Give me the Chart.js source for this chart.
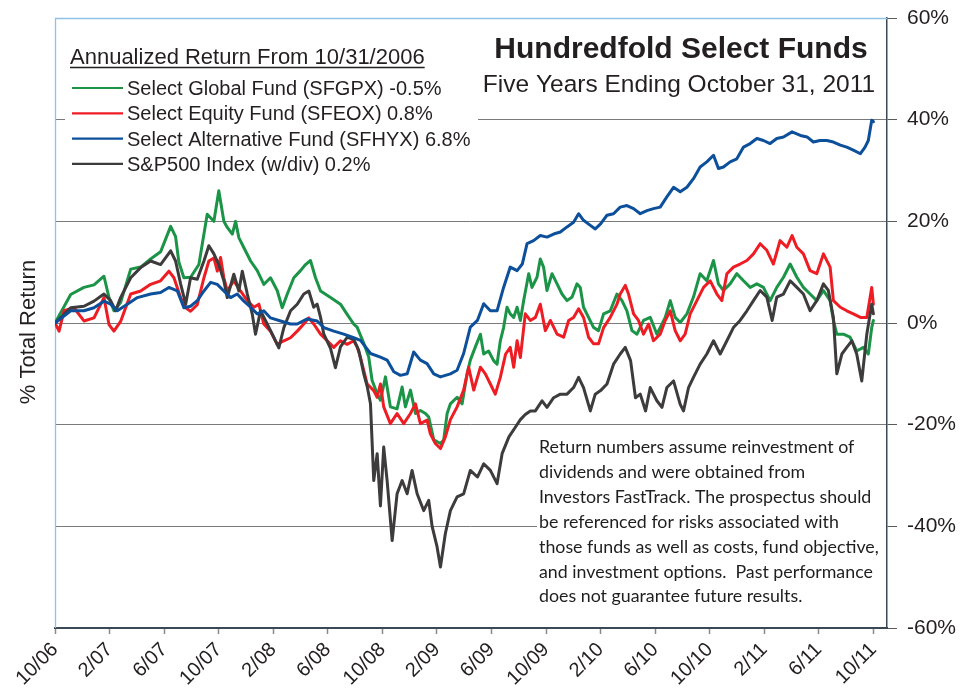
<!DOCTYPE html>
<html><head><meta charset="utf-8">
<script src="https://cdn.jsdelivr.net/npm/chart.js@4.4.0/dist/chart.umd.min.js"></script>
<style>html,body{margin:0;padding:0;background:#fff}#wrap{width:972px;height:696px}</style>
</head><body><div id="wrap"><canvas id="c" width="972" height="696"></canvas></div>
<script>
// Months since 10/31/2006 for the axis ticks
const tickMonths = [0,4,8,12,16,20,24,28,32,36,40,44,48,52,56,60];
const tickLabels = ['10/06','2/07','6/07','10/07','2/08','6/08','10/08','2/09','6/09','10/09','2/10','6/10','10/10','2/11','6/11','10/11'];
const yTicks = [-60,-40,-20,0,20,40,60];

const seriesNames = [
  'Select Global Fund (SFGPX) -0.5%',
  'Select Equity Fund (SFEOX) 0.8%',
  'Select Alternative Fund (SFHYX) 6.8%',
  'S&P500 Index (w/div) 0.2%'
];
const seriesColors = ['#1b9447','#ee1d24','#0c4f9b','#3d3b3c'];

// Select Global Fund
const globalMonths = [0,1.15,2.12,2.86,3.59,3.96,4.32,4.81,5.55,6.28,7.01,7.74,8.48,8.84,9.08,9.45,9.94,10.55,11.16,11.65,12.01,12.38,12.63,13.0,13.24,13.48,13.85,14.34,14.83,15.31,15.80,16.29,16.66,17.03,17.51,18.0,18.37,18.73,19.10,19.47,20.20,20.93,21.42,21.90,22.15,22.64,23.0,23.25,23.62,23.86,24.23,24.59,25.08,25.45,25.69,26.06,26.43,26.79,27.16,27.40,27.77,28.26,28.50,28.75,28.99,29.48,29.85,30.21,30.45,30.82,31.19,31.43,31.79,32.16,32.41,32.65,32.89,33.14,33.38,33.63,33.88,34.12,34.36,34.73,34.97,35.34,35.58,35.82,36.07,36.44,36.81,37.17,37.54,37.91,38.27,38.51,38.75,39.12,39.49,39.85,40.22,40.71,41.20,41.57,41.93,42.30,42.67,43.15,43.64,44.13,44.37,44.74,45.11,45.47,45.84,46.33,46.81,47.30,47.79,48.28,48.64,49.01,49.50,49.99,50.48,50.97,51.46,51.94,52.43,52.92,53.41,53.90,54.39,54.87,55.36,55.85,56.34,56.83,57.07,57.32,57.80,58.29,58.78,59.27,59.63,59.88,60.0];
const globalReturns = [0,5.6,7,7.5,9.2,5,2.4,4,10.6,11,12.6,14,19,17,12,8.9,9,11.5,21.4,20,26,20,18.8,17.5,20,16.8,14.8,12.2,10.3,7.6,8.9,6.4,3,5.7,8.9,10.3,11.5,12.3,8.9,6.3,5,3.7,1.7,-0.2,-0.8,-4,-6.7,-11.3,-13.9,-15.2,-10.6,-16.5,-16.9,-12.6,-16.5,-13.2,-17.8,-17.2,-17.8,-18.5,-23,-23.7,-23,-17.8,-15.9,-14.6,-15.9,-10,-7.3,-4.7,-2.2,-6.1,-5.5,-7.4,-8.1,-3.5,-0.9,3.1,1.8,1.1,3.1,0.5,4.4,9.7,7,9,12.6,11,6.4,9.7,7.7,5.7,4.4,5.1,7.7,7,3.1,1.1,-0.9,-1.5,1.8,2.4,5.7,4.4,2.4,-1.5,-2.2,0.5,1.1,-2.2,-0.9,1.1,4.4,1.1,0.1,1.8,5.1,9.7,8.3,12.3,7.7,6.4,7.7,9.7,8.3,7,7.7,7,4.4,7,9,11.6,9,7,5.7,4.4,6.4,4.4,0.5,-2.2,-2.2,-2.8,-5.5,-4.8,-6.1,-0.9,0.5];

// Select Equity Fund
const equityMonths = [0,0.3,0.66,1.39,2.12,2.86,3.59,3.96,4.32,4.81,5.55,6.28,7.01,7.74,8.35,8.72,9.21,9.58,9.94,10.43,10.92,11.28,11.65,11.90,12.14,12.38,12.63,13.11,13.60,14.10,14.58,14.95,15.31,15.80,16.29,16.78,17.27,17.76,18.24,18.61,18.97,19.47,19.96,20.44,20.93,21.42,21.90,22.15,22.40,22.89,23.37,23.62,23.86,24.10,24.59,25.08,25.57,26.06,26.43,26.79,27.28,27.52,27.89,28.26,28.62,28.99,29.48,29.96,30.33,30.70,31.19,31.55,31.92,32.28,32.65,33.04,33.38,33.63,33.88,34.12,34.48,34.85,35.22,35.58,35.95,36.32,36.81,37.29,37.66,38.02,38.39,38.75,39.12,39.49,39.85,40.22,40.71,41.20,41.44,41.81,42.05,42.42,42.78,43.15,43.52,43.88,44.37,44.74,45.11,45.47,45.84,46.20,46.57,47.06,47.55,48.04,48.53,48.89,49.26,49.74,50.23,50.73,51.21,51.70,52.19,52.67,53.16,53.66,54.04,54.39,54.87,55.36,55.85,56.34,56.83,57.07,57.58,58.05,58.53,59.05,59.52,59.88,60.0];
const equityReturns = [0,-1.6,2.4,3,0.4,1,5,-0.3,-1.6,0.3,5.7,6.3,7.6,8.3,10.2,8.9,5,3,2.3,3.6,8.9,12.2,12.8,10.2,12.9,8.9,6.3,8.3,6.3,4.4,3.1,3.7,-0.2,-1.6,-4.2,-3.5,-2.9,-1.6,-0.2,1,-0.2,-2.2,-3.5,-4.8,-3.5,-4.2,-3.5,-4.7,-6.8,-12,-13.3,-14.6,-12,-16.5,-19.8,-17.8,-19.8,-17.8,-15.9,-19.8,-19.1,-21.8,-23.7,-24.7,-22.4,-19,-16.5,-13.2,-8.7,-13.2,-8.7,-10,-12,-14,-10.7,-6.1,-4.8,-8.7,-3.5,-6.8,1.8,0.5,1.1,3.7,-1.5,0.5,-2.2,-2.8,0.5,1.1,2.8,1.1,-2.8,-4.1,-4.1,-0.9,1.1,3.7,5.7,7.4,5.7,1.8,0.5,-2.2,-0.2,-3.5,-2.2,0.5,2.4,-1.5,-3.5,-2.2,1.8,4.4,7,8.3,5.7,4.4,9.7,11,11.6,12.3,13.6,15.6,14.3,11.6,16.2,14.9,17.2,14.9,13.6,10.3,9.7,13.6,11,4.4,3.1,2.4,1.8,1.1,1.1,7,3.7];

// Select Alternative Fund
const altMonths = [0,1.15,2.12,2.86,3.59,4.08,4.57,5.30,6.04,7.01,7.74,8.35,8.97,9.45,9.94,10.43,10.92,11.41,11.90,12.38,12.87,13.36,13.85,14.34,14.83,15.31,15.80,16.54,17.27,17.76,18.49,19.22,19.71,20.44,21.17,21.90,22.40,23.13,23.86,24.35,24.84,25.33,25.82,26.30,26.79,27.28,27.77,28.26,28.99,29.48,29.96,30.45,30.97,31.43,31.92,32.41,32.89,33.38,33.88,34.26,34.61,35.09,35.58,36.07,36.56,37.05,37.54,38.02,38.39,38.75,39.25,39.61,40.0,40.47,40.95,41.44,41.93,42.42,42.91,43.40,43.88,44.37,44.86,45.35,45.84,46.33,46.81,47.30,47.79,48.28,48.64,49.01,49.50,49.99,50.48,50.97,51.46,51.94,52.43,52.92,53.41,54.04,54.65,55.14,55.60,56.09,56.59,57.07,57.58,58.05,58.53,59.05,59.39,59.63,59.88,60.0];
const altReturns = [0,2.4,2.4,3,4.3,3.7,2.4,3.7,5,5.7,6,7,6.3,3,3.3,4.4,6.3,8,7.6,6.3,5,5.7,4.3,3.1,1.8,2.4,1,0.4,-0.2,-0.2,0.8,0.4,-0.9,-1.6,-2.2,-2.9,-3.4,-6,-6.7,-7.3,-9.6,-10.3,-10,-5.7,-7.3,-8,-10,-10.6,-10,-9.3,-6,-0.8,0.5,3.8,2.4,2.4,7,11,10.3,11.6,15.6,16.2,17.2,16.9,17.5,17.9,18.9,19.8,21.5,20.2,19.2,18.5,19.5,21.2,21.5,22.8,23.1,22.5,21.5,22.1,22.5,22.8,24.8,26.7,25.8,26.7,28.4,30.7,31.7,33,30.4,30.7,31.7,32.3,34.6,35.3,36.3,35.9,35.3,36.3,36.6,37.6,36.9,36.6,35.6,35.9,35.9,35.6,35,34.6,34,33.3,34.6,35.9,39.9,39.6];

// S&P 500 Index (with dividends)
const spMonths = [0,1.15,2.12,2.86,3.59,4.08,4.45,4.81,5.55,6.28,7.01,7.74,8.48,8.84,9.21,9.58,9.94,10.43,10.92,11.28,11.65,12.01,12.38,12.63,13.11,13.48,13.73,14.10,14.46,14.70,15.07,15.56,16.04,16.41,16.78,17.27,17.76,18.24,18.61,18.97,19.22,19.47,19.71,20.20,20.56,20.93,21.42,21.90,22.27,22.64,22.89,23.13,23.37,23.62,23.86,24.10,24.35,24.72,25.08,25.45,25.82,26.18,26.55,27.03,27.40,27.65,28.01,28.26,28.62,28.99,29.48,29.96,30.45,30.97,31.43,31.92,32.41,32.78,33.28,33.75,34.12,34.48,34.85,35.22,35.71,36.07,36.56,37.05,37.54,38.02,38.39,38.75,39.25,39.61,40.0,40.47,40.95,41.44,41.81,42.20,42.56,42.91,43.30,43.64,44.13,44.50,44.86,45.35,45.84,46.08,46.45,46.81,47.30,47.79,48.28,48.77,49.26,49.74,50.23,50.73,51.21,51.70,52.19,52.58,52.92,53.41,53.90,54.39,54.87,55.36,55.85,56.34,56.70,57.07,57.32,57.69,58.05,58.42,58.78,59.15,59.52,59.88,60.0];
const spReturns = [0,3,3.3,4.3,5.7,4.4,2.4,5,8.9,10.9,12.2,11.5,14.2,12.2,7.7,3.7,8.9,8.6,12.2,15.2,13.6,11.5,8.3,5,9.6,6.3,10.2,5.7,1.8,-2.2,2.4,-0.2,-2.8,-4.9,-0.9,2.4,3.7,5.7,6.3,3.1,3.7,1.1,-2.2,-5,-8.8,-4.7,-2.8,-3.2,-5.4,-10,-12.5,-15.9,-31,-25.7,-36,-24.4,-31,-42.8,-33.6,-31,-33.6,-29,-33.6,-36.9,-34.9,-40,-44,-48,-41.4,-36.9,-34.2,-33.6,-29,-30.3,-27.7,-29,-31.6,-25.7,-22.4,-20.5,-19,-18,-17.3,-17.3,-15.3,-16.6,-14.7,-14,-14,-12.7,-10.7,-12.7,-17.3,-14,-13.3,-12,-8.1,-6.1,-4.8,-7.4,-14.7,-14,-17.3,-12.7,-15.3,-16.6,-12.7,-11.4,-16,-17.3,-12.7,-10.7,-8.1,-6.1,-3.5,-6.1,-3.5,-0.9,0.5,2.4,4.4,6.4,5.1,0.5,5.1,5.7,8.3,7,5.7,2.4,4.4,7.7,6.4,1.1,-10,-6.1,-4.8,-3.5,-6.1,-11.4,-2.2,3.7,1.8];

const FONT = "'Liberation Sans', Arial, Helvetica, sans-serif";
const TEXT = '#231f20';

function pts(ms, vs){ return ms.map((m,i)=>({x:m,y:vs[i]})); }

const noteLines = [
  'Return numbers assume reinvestment of',
  'dividends and were obtained from',
  'Investors FastTrack. The prospectus should',
  'be referenced for risks associated with',
  'those funds as well as costs, fund objective,',
  'and investment options.  Past performance',
  'does not guarantee future results.'
];

const decor = {
  id:'decor',
  beforeDatasetsDraw(chart){
    const {ctx, chartArea:a} = chart;
    ctx.save();
    ctx.strokeStyle = '#8fc3e6'; ctx.lineWidth = 1.3;
    ctx.beginPath();
    ctx.moveTo(a.left+0.5, a.bottom); ctx.lineTo(a.left+0.5, a.top+0.5); ctx.lineTo(a.right, a.top+0.5);
    ctx.stroke();
    ctx.fillStyle = '#ffffff';
    ctx.fillRect(a.left+10, a.top+12, 478-(a.left+10), 170);
    ctx.fillRect(537, 431, a.right-1-537, 182);
    ctx.restore();
  },
  afterDraw(chart){
    const {ctx} = chart;
    ctx.save();
    ctx.fillStyle = TEXT;
    ctx.textBaseline = 'alphabetic';
    ctx.font = '22px ' + FONT; ctx.textAlign = 'left';
    const head = 'Annualized Return From 10/31/2006';
    ctx.fillText(head, 70, 64);
    const hw = ctx.measureText(head).width;
    ctx.strokeStyle = TEXT; ctx.lineWidth = 1.3;
    ctx.beginPath(); ctx.moveTo(70, 67.5); ctx.lineTo(70+hw, 67.5); ctx.stroke();
    ctx.font = '20px ' + FONT;
    chart.data.datasets.forEach((ds, i) => {
      const base = 95 + i*25.3;
      ctx.strokeStyle = ds.borderColor; ctx.lineWidth = 2.2;
      ctx.beginPath(); ctx.moveTo(72, base-7); ctx.lineTo(123, base-7); ctx.stroke();
      ctx.fillStyle = TEXT;
      ctx.fillText(ds.label, 127, base);
    });
    ctx.textAlign = 'center';
    ctx.font = 'bold 30px ' + FONT;
    ctx.fillText('Hundredfold Select Funds', 681, 58);
    ctx.font = '24.5px ' + FONT;
    ctx.fillText('Five Years Ending October 31, 2011', 679, 92);
    ctx.save();
    ctx.translate(35, 332); ctx.rotate(-Math.PI/2);
    ctx.font = '22px ' + FONT; ctx.textAlign = 'center';
    ctx.fillText('% Total Return', 0, 0);
    ctx.restore();
    const nf = "Lato, 'Open Sans', sans-serif";
    ctx.textAlign = 'left';
    ctx.font = '17px ' + nf;
    const w = ctx.measureText(noteLines[4]).width;
    const size = 17 * 340 / w;
    ctx.font = size.toFixed(2) + 'px ' + nf;
    ctx.fillStyle = '#1e1e1e';
    noteLines.forEach((t, i) => ctx.fillText(t, 539, 453 + i*24.9));
    ctx.restore();
  }
};

new Chart(document.getElementById('c'), {
  type:'line',
  data:{
    datasets:[
      {label:seriesNames[0], data:pts(globalMonths, globalReturns), borderColor:seriesColors[0], order:4},
      {label:seriesNames[1], data:pts(equityMonths, equityReturns), borderColor:seriesColors[1], order:3},
      {label:seriesNames[2], data:pts(altMonths, altReturns), borderColor:seriesColors[2], order:1},
      {label:seriesNames[3], data:pts(spMonths, spReturns), borderColor:seriesColors[3], order:2}
    ]
  },
  options:{
    responsive:false, animation:false, devicePixelRatio:1,
    layout:{padding:{left:55, top:18, right:0, bottom:0}},
    plugins:{legend:{display:false}, tooltip:{enabled:false}},
    elements:{point:{radius:0}, line:{tension:0, borderWidth:3, borderJoinStyle:'round', borderCapStyle:'round', fill:false}},
    scales:{
      x:{
        type:'linear', min:0, max:61,
        afterBuildTicks(s){ s.ticks = tickMonths.map(v=>({value:v})); },
        afterFit(s){ s.height = 68; },
        grid:{drawOnChartArea:false, drawTicks:true, tickLength:6, tickColor:'#8a8a8a', tickWidth:1.5},
        border:{display:true, color:'#3b4856', width:2},
        ticks:{autoSkip:false, minRotation:45, maxRotation:45, padding:4, color:TEXT,
          font:{family:FONT, size:20},
          callback:(v)=>{ const i = tickMonths.indexOf(v); return i>=0 ? tickLabels[i] : ''; }}
      },
      y:{
        position:'right', min:-60, max:60,
        afterBuildTicks(s){ s.ticks = yTicks.map(v=>({value:v})); },
        afterFit(s){ s.width = 85; s.paddingTop = 4; s.paddingBottom = 4; },
        grid:{
          color:(c)=> (c.tick && Math.abs(c.tick.value)===60) ? 'rgba(0,0,0,0)' : '#7a7a7a',
          lineWidth:1, tickColor:'#5a5a5a', tickLength:10, drawTicks:true
        },
        border:{display:true, color:'#3b4856', width:1.5},
        ticks:{padding:10, color:TEXT, font:{family:FONT, size:21}, callback:(v)=>v+'%'}
      }
    }
  },
  plugins:[decor]
});
</script>
</body></html>
